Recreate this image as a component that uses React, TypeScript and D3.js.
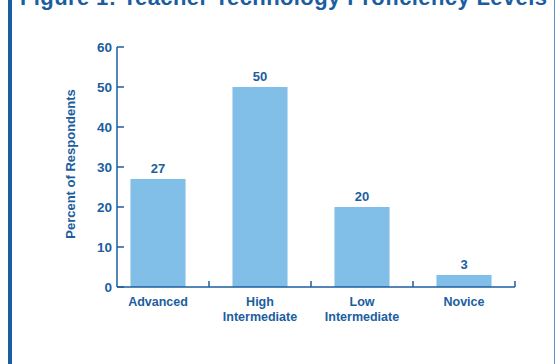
import * as d3 from "d3";

const categories = ["Advanced", "High|Intermediate", "Low|Intermediate", "Novice"];
const values = [27, 50, 20, 3];
const yTicks = [0, 10, 20, 30, 40, 50, 60];

const W = 558;
const H = 364;
const dark = "#1b5e9f";
const barColor = "#82bfe8";

export default function App() {
  const x = d3.scaleBand().domain(categories).range([107, 515]).paddingInner(0.46).paddingOuter(0.23);
  const y = d3.scaleLinear().domain([0, 60]).range([287, 47]);
  const bounds = d3.scaleBand().domain(categories).range([107, 515]);
  const font = "'Liberation Sans', Arial, sans-serif";

  return (
    <svg
      width={W}
      height={H}
      style={{ position: "absolute", left: 0, top: 0, fontFamily: font }}
    >
      <rect x={0} y={0} width={W} height={H} fill="white" />
      {/* frame */}
      <rect x={8} y={0} width={4} height={H} fill={dark} />
      <line x1={554.5} x2={554.5} y1={0} y2={H} stroke="#5b8fc4" strokeWidth={1} />
      <text x={20} y={5} fontSize={22} fontWeight="bold" fill={dark} textLength={527}>
        Figure 1: Teacher Technology Proficiency Levels
      </text>

      {/* bars */}
      {categories.map((c, i) => (
        <g key={c}>
          <rect
            x={x(c)}
            y={y(values[i])}
            width={x.bandwidth()}
            height={y(0) - y(values[i])}
            fill={barColor}
          />
          <text
            x={x(c)! + x.bandwidth() / 2}
            y={y(values[i]) - 6}
            textAnchor="middle"
            fontSize={13}
            fontWeight="bold"
            fill={dark}
          >
            {values[i]}
          </text>
        </g>
      ))}

      {/* y axis */}
      <line x1={117} x2={117} y1={y(60)} y2={y(0)} stroke={dark} strokeWidth={1.5} />
      {yTicks.map((t) => (
        <g key={t}>
          <line x1={117} x2={124} y1={y(t)} y2={y(t)} stroke={dark} strokeWidth={1.5} />
          <text
            x={112}
            y={y(t)}
            dy="0.36em"
            textAnchor="end"
            fontSize={13.5}
            fontWeight="bold"
            fill={dark}
          >
            {t}
          </text>
        </g>
      ))}
      <text
        transform={`translate(75,164) rotate(-90)`}
        textAnchor="middle"
        fontSize={13}
        fontWeight="bold"
        fill={dark}
      >
        Percent of Respondents
      </text>

      {/* x axis */}
      <line x1={117} x2={515} y1={y(0)} y2={y(0)} stroke={dark} strokeWidth={1.5} />
      {categories.map((c) => (
        <line
          key={c}
          x1={bounds(c)! + bounds.bandwidth()}
          x2={bounds(c)! + bounds.bandwidth()}
          y1={y(0)}
          y2={y(0) - 6}
          stroke={dark}
          strokeWidth={1.5}
        />
      ))}
      {categories.map((c) => (
        <text
          key={c}
          x={x(c)! + x.bandwidth() / 2}
          y={306}
          textAnchor="middle"
          fontSize={12.5}
          fontWeight="bold"
          fill={dark}
        >
          {c.split("|").map((s, j) => (
            <tspan key={j} x={x(c)! + x.bandwidth() / 2} dy={j === 0 ? 0 : 15}>
              {s}
            </tspan>
          ))}
        </text>
      ))}
    </svg>
  );
}
